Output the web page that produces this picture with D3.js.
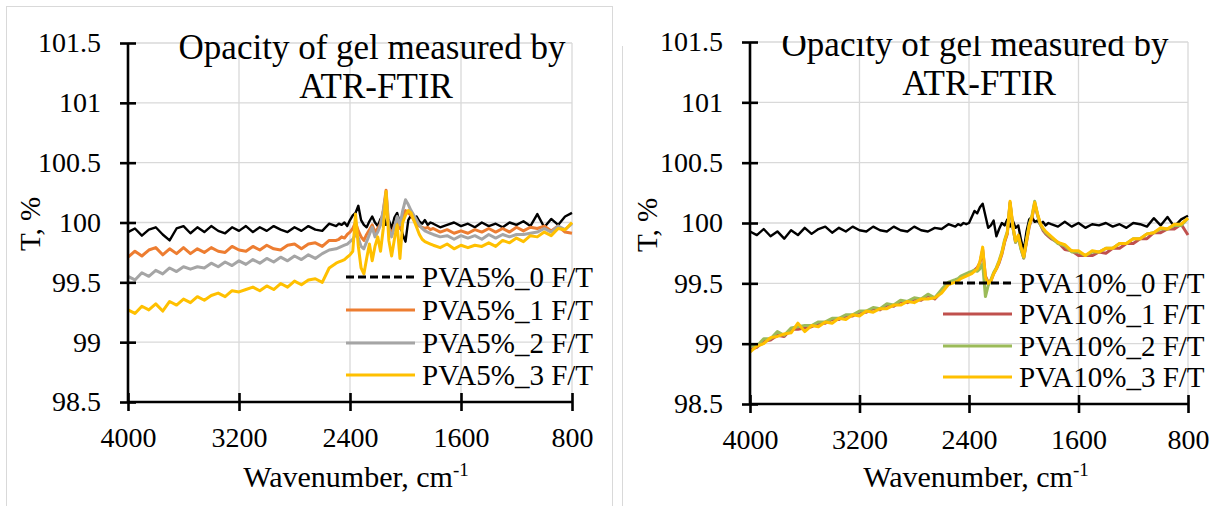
<!DOCTYPE html>
<html>
<head>
<meta charset="utf-8">
<script src="https://cdn.jsdelivr.net/npm/d3@7"></script>
</head>
<body style="margin:0">
<div id="chart"></div>
<script>
// sampling grid (cm-1) shared by all series
const wavenumbers = [].concat(
  d3.range(4000, 2500, -50),
  d3.range(2500, 1800, -20),
  d3.range(1800, 799, -50)
);

const xTicks = [4000, 3200, 2400, 1600, 800];
const yTicks = [98.5, 99, 99.5, 100, 100.5, 101, 101.5];

const labels5 = ["PVA5%_0 F/T", "PVA5%_1 F/T", "PVA5%_2 F/T", "PVA5%_3 F/T"];
const labels10 = ["PVA10%_0 F/T", "PVA10%_1 F/T", "PVA10%_2 F/T", "PVA10%_3 F/T"];

const pva5_0 = [
  99.92, 99.95, 99.89, 99.94, 99.96, 99.90, 99.85, 99.95, 99.97, 99.91, 99.96, 99.92, 99.97, 99.93, 99.91, 99.96, 99.93, 99.97, 99.92, 99.96, 99.93, 99.97, 99.94, 99.92, 99.96, 99.93, 99.97, 99.94, 99.93, 99.99,
  99.97, 99.99, 99.98, 100.00, 99.97, 100.02, 100.06, 100.08, 100.14, 100.02, 99.98, 99.96, 100.01, 100.05, 100.00, 99.97, 100.03, 100.06, 99.98, 100.02, 99.95, 100.04, 100.08, 99.99, 99.90, 99.84, 100.02, 100.06, 100.03, 100.05, 100.01, 99.99, 100.02, 99.98, 100.00,
  99.99, 99.96, 99.98, 100.00, 99.97, 99.99, 99.96, 100.00, 99.97, 99.99, 99.96, 100.00, 99.98, 100.01, 99.97, 100.07, 99.96, 100.03, 99.98, 100.05, 100.08
];
const pva5_1 = [
  99.71, 99.76, 99.72, 99.77, 99.79, 99.73, 99.78, 99.74, 99.79, 99.74, 99.78, 99.75, 99.79, 99.76, 99.75, 99.80, 99.77, 99.76, 99.80, 99.77, 99.81, 99.78, 99.77, 99.81, 99.82, 99.78, 99.82, 99.83, 99.80, 99.85,
  99.85, 99.86, 99.88, 99.87, 99.90, 99.92, 99.95, 100.00, 99.93, 99.88, 99.85, 99.90, 99.94, 99.98, 99.92, 99.95, 99.99, 100.10, 100.27, 99.95, 99.90, 99.97, 100.02, 99.95, 100.05, 100.10, 100.08, 100.06, 100.02, 99.99, 99.97, 99.96, 99.95, 99.96, 99.94,
  99.95, 99.92, 99.94, 99.91, 99.93, 99.91, 99.94, 99.92, 99.95, 99.92, 99.95, 99.92, 99.96, 99.93, 99.96, 99.95, 99.97, 99.93, 99.97, 99.92, 99.91
];
const pva5_2 = [
  99.55, 99.52, 99.58, 99.55, 99.60, 99.57, 99.62, 99.59, 99.63, 99.61, 99.63, 99.62, 99.66, 99.63, 99.67, 99.64, 99.68, 99.65, 99.69, 99.66, 99.70, 99.67, 99.71, 99.68, 99.72, 99.69, 99.73, 99.70, 99.74, 99.77,
  99.78, 99.79, 99.80, 99.81, 99.82, 99.84, 99.86, 99.90, 99.87, 99.80, 99.78, 99.84, 99.90, 99.96, 99.88, 99.92, 99.98, 100.10, 100.24, 99.94, 99.88, 99.96, 100.05, 99.98, 100.10, 100.19, 100.15, 100.10, 100.06, 100.02, 99.98, 99.95, 99.93, 99.92, 99.91,
  99.90, 99.88, 99.89, 99.86, 99.89, 99.87, 99.89, 99.86, 99.90, 99.87, 99.90, 99.88, 99.90, 99.90, 99.91, 99.92, 99.95, 99.92, 99.97, 99.94, 99.99
];
const pva5_3 = [
  99.27, 99.24, 99.30, 99.27, 99.32, 99.26, 99.34, 99.31, 99.36, 99.33, 99.38, 99.35, 99.39, 99.41, 99.38, 99.43, 99.42, 99.44, 99.46, 99.43, 99.47, 99.44, 99.49, 99.46, 99.51, 99.48, 99.52, 99.53, 99.50, 99.62,
  99.66, 99.67, 99.68, 99.69, 99.71, 99.73, 99.76, 100.07, 99.80, 99.62, 99.57, 99.70, 99.82, 99.68, 99.80, 99.88, 99.76, 99.95, 100.26, 99.85, 99.72, 99.86, 99.98, 99.70, 100.00, 100.06, 100.10, 100.08, 100.02, 99.96, 99.90, 99.86, 99.84, 99.83, 99.82,
  99.81, 99.79, 99.82, 99.78, 99.81, 99.79, 99.81, 99.80, 99.83, 99.80, 99.85, 99.83, 99.87, 99.84, 99.89, 99.88, 99.92, 99.89, 99.95, 99.94, 100.00
];

const pva10_0 = [
  99.93, 99.90, 99.95, 99.89, 99.93, 99.87, 99.94, 99.90, 99.96, 99.91, 99.95, 99.97, 99.92, 99.96, 99.93, 99.97, 99.94, 99.93, 99.97, 99.94, 99.93, 99.97, 99.94, 99.93, 99.97, 99.94, 99.93, 99.96, 99.95, 99.99,
  99.97, 99.99, 99.98, 100.00, 99.99, 100.00, 100.05, 100.10, 100.08, 100.13, 100.16, 100.06, 99.96, 99.98, 100.02, 99.89, 99.95, 100.00, 99.98, 100.03, 99.97, 100.02, 99.96, 99.98, 99.86, 99.77, 99.93, 100.03, 100.05, 100.01, 100.02, 99.99, 100.01, 99.98, 100.00,
  99.99, 99.97, 100.01, 99.97, 100.00, 99.96, 99.99, 99.98, 100.00, 99.97, 99.99, 99.96, 100.00, 99.99, 99.97, 100.04, 99.98, 100.05, 99.97, 100.03, 100.06
];
const pva10_1 = [
  98.95, 98.97, 99.02, 99.03, 99.07, 99.06, 99.12, 99.12, 99.13, 99.14, 99.17, 99.17, 99.20, 99.20, 99.23, 99.23, 99.26, 99.26, 99.29, 99.28, 99.32, 99.31, 99.35, 99.34, 99.37, 99.36, 99.40, 99.37, 99.43, 99.50,
  99.52, 99.53, 99.55, 99.56, 99.57, 99.58, 99.59, 99.61, 99.63, 99.67, 99.78, 99.56, 99.51, 99.52, 99.58, 99.62, 99.67, 99.74, 99.84, 99.91, 100.17, 99.97, 99.84, 99.89, 99.79, 99.71, 99.84, 99.97, 100.04, 100.16, 100.07, 99.99, 99.94, 99.91, 99.89,
  99.87, 99.84, 99.78, 99.77, 99.73, 99.73, 99.73, 99.76, 99.75, 99.79, 99.79, 99.83, 99.83, 99.87, 99.87, 99.92, 99.92, 99.95, 99.95, 99.99, 99.90
];
const pva10_2 = [
  98.98, 98.98, 99.04, 99.04, 99.10, 99.07, 99.13, 99.14, 99.15, 99.15, 99.18, 99.18, 99.21, 99.21, 99.24, 99.24, 99.27, 99.27, 99.30, 99.29, 99.33, 99.32, 99.36, 99.35, 99.38, 99.37, 99.41, 99.38, 99.45, 99.51,
  99.53, 99.54, 99.56, 99.57, 99.58, 99.59, 99.60, 99.61, 99.60, 99.62, 99.66, 99.39, 99.48, 99.53, 99.59, 99.63, 99.69, 99.76, 99.86, 99.93, 100.16, 99.97, 99.84, 99.88, 99.78, 99.71, 99.86, 99.99, 100.06, 100.18, 100.07, 99.99, 99.95, 99.92, 99.90,
  99.88, 99.83, 99.81, 99.76, 99.76, 99.73, 99.76, 99.76, 99.79, 99.79, 99.83, 99.83, 99.87, 99.87, 99.91, 99.92, 99.95, 99.95, 99.98, 99.98, 100.04
];
const pva10_3 = [
  98.93, 98.98, 99.00, 99.05, 99.06, 99.08, 99.09, 99.17, 99.10, 99.15, 99.14, 99.18, 99.17, 99.21, 99.20, 99.24, 99.23, 99.27, 99.26, 99.29, 99.29, 99.32, 99.32, 99.35, 99.34, 99.37, 99.37, 99.38, 99.42, 99.49,
  99.51, 99.52, 99.54, 99.55, 99.56, 99.57, 99.58, 99.60, 99.62, 99.68, 99.80, 99.55, 99.50, 99.52, 99.58, 99.62, 99.68, 99.75, 99.85, 99.92, 100.18, 99.98, 99.85, 99.90, 99.80, 99.72, 99.85, 99.98, 100.05, 100.17, 100.08, 100.00, 99.96, 99.93, 99.91,
  99.89, 99.84, 99.82, 99.77, 99.77, 99.73, 99.77, 99.76, 99.79, 99.79, 99.83, 99.83, 99.87, 99.87, 99.91, 99.92, 99.96, 99.95, 99.99, 99.99, 100.04
];

const colors5 = ["#000000", "#ED7D31", "#A5A5A5", "#FFC000"];
const colors10 = ["#000000", "#C0504D", "#9BBB59", "#FFC000"];

const serif = sel => sel.style("font-family", "'Liberation Serif'");

const W = 1226, H = 506;
const svg = d3.select("#chart").append("svg").attr("width", W).attr("height", H)
  .style("font-family", "'Liberation Serif'");

// chart frames
svg.append("rect").attr("x", 6.5).attr("y", 6.5).attr("width", 606).attr("height", 520)
  .attr("fill", "none").attr("stroke", "#d9d9d9");
svg.append("line").attr("x1", 622.5).attr("x2", 622.5).attr("y1", 46).attr("y2", H)
  .attr("stroke", "#d9d9d9");

const panels = [
  { id: "p5", series: [pva5_0, pva5_1, pva5_2, pva5_3], labels: labels5, colors: colors5,
    x0: 128, x1: 572, y0: 402, y1: 43, titleX: 372, titleY: 59, clipTop: 0,
    legX: 346, legY: [277, 310, 343, 375], yTitleX: 40, yTitleY: 224, xTitleX: 356 },
  { id: "p10", series: [pva10_0, pva10_1, pva10_2, pva10_3], labels: labels10, colors: colors10,
    x0: 750, x1: 1188, y0: 404, y1: 42, titleX: 975, titleY: 56, clipTop: 36,
    legX: 943, legY: [283, 314, 346, 377], yTitleX: 657, yTitleY: 225, xTitleX: 976 }
];

panels.forEach(p => {
  const x = d3.scaleLinear().domain([4000, 800]).range([p.x0, p.x1]);
  const y = d3.scaleLinear().domain([98.5, 101.5]).range([p.y0, p.y1]);
  const g = svg.append("g");

  // gridlines
  g.selectAll(".hg").data(yTicks).join("line")
    .attr("x1", p.x0).attr("x2", p.x1).attr("y1", d => y(d)).attr("y2", d => y(d))
    .attr("stroke", "#d9d9d9").attr("stroke-width", 1.3);
  g.selectAll(".vg").data(xTicks).join("line")
    .attr("x1", d => x(d)).attr("x2", d => x(d)).attr("y1", p.y0).attr("y2", p.y1)
    .attr("stroke", "#d9d9d9").attr("stroke-width", 1.3);

  // title (right one is cut at the top in the original)
  const clipId = "clip-" + p.id;
  svg.append("clipPath").attr("id", clipId).append("rect")
    .attr("x", p.x0 - 200).attr("y", p.clipTop).attr("width", 800).attr("height", 200);
  const tg = g.append("g").attr("clip-path", `url(#${clipId})`);
  serif(tg.append("text")).attr("x", p.titleX).attr("y", p.titleY).attr("text-anchor", "middle")
    .attr("font-size", 35).text("Opacity of gel measured by");
  serif(tg.append("text")).attr("x", p.titleX + 4).attr("y", p.titleY + 39).attr("text-anchor", "middle")
    .attr("font-size", 35).text("ATR-FTIR");

  // series lines
  const line = d3.line().x(d => x(d[0])).y(d => y(d[1]));
  p.series.forEach((vals, i) => {
    const pts = wavenumbers.map((w, k) => [w, vals[k]]).filter(d => d[1] != null);
    g.append("path").datum(pts).attr("d", line).attr("fill", "none")
      .attr("stroke", p.colors[i]).attr("stroke-width", i === 0 ? 2.4 : 3)
      .attr("stroke-linejoin", "round");
  });

  // axes
  const yAxis = g.append("g").attr("transform", `translate(${p.x0},0)`)
    .call(d3.axisLeft(y).tickValues(yTicks).tickFormat(d => d).tickSize(8).tickPadding(19));
  const xAxis = g.append("g").attr("transform", `translate(0,${p.y0})`)
    .call(d3.axisBottom(x).tickValues(xTicks).tickFormat(d3.format("d")).tickSize(9).tickPadding(16));
  [yAxis, xAxis].forEach(a => {
    a.attr("font-size", 28).attr("font-family", null);
    serif(a);
    serif(a.selectAll(".tick text")).attr("fill", "#000");
    a.select(".domain").attr("stroke", "#000").attr("stroke-width", 2.6);
    a.selectAll(".tick line").attr("stroke", "#000").attr("stroke-width", 2.6);
  });
  yAxis.selectAll(".tick line").attr("x1", 8);
  xAxis.selectAll(".tick line").attr("y1", -9);
  yAxis.select(".domain").attr("d", `M0,${y(98.5)}V${y(101.5)}`);
  xAxis.select(".domain").attr("d", `M${p.x0},0H${p.x1}`);

  // axis titles
  serif(g.append("text")).attr("transform", `translate(${p.yTitleX},${p.yTitleY}) rotate(-90)`)
    .attr("text-anchor", "middle").attr("font-size", 29).text("T, %");
  const xt = serif(g.append("text")).attr("x", p.xTitleX).attr("y", 487).attr("text-anchor", "middle")
    .attr("font-size", 30);
  xt.append("tspan").text("Wavenumber, cm");
  xt.append("tspan").attr("font-size", 19).attr("dy", -11).text("-1");

  // legend
  const leg = g.selectAll(".leg").data(p.labels).join("g")
    .attr("transform", (d, i) => `translate(${p.legX},${p.legY[i]})`);
  leg.append("line").attr("x1", 0).attr("x2", 69).attr("y1", 0).attr("y2", 0)
    .attr("stroke", (d, i) => p.colors[i]).attr("stroke-width", 3)
    .attr("stroke-dasharray", (d, i) => i === 0 ? "8,4" : null);
  serif(leg.append("text")).attr("x", 76).attr("y", 10).attr("font-size", 29).text(d => d);
});
</script>
</body>
</html>
